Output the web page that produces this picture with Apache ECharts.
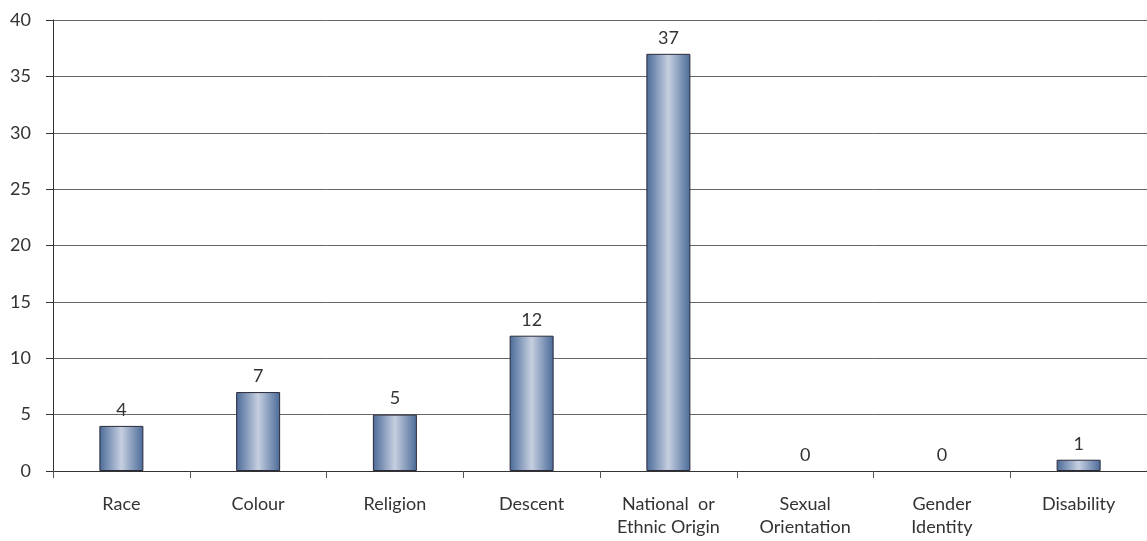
<!DOCTYPE html>
<html><head><meta charset="utf-8">
<script src="https://cdn.jsdelivr.net/npm/echarts@6/dist/echarts.min.js"></script>
<style>html,body{margin:0;padding:0;background:#fff}#c{width:1147px;height:541px}</style>
</head><body><div id="c"></div>
<script>
var categories = ['Race', 'Colour', 'Religion', 'Descent', 'National  or\nEthnic Origin', 'Sexual\nOrientation', 'Gender\nIdentity', 'Disability'];
var values = [4, 7, 5, 12, 37, 0, 0, 1];
var yTicks = { min: 0, max: 40, interval: 5 };

var chart = echarts.init(document.getElementById('c'));
var grad = new echarts.graphic.LinearGradient(0, 0, 1, 0, [
  { offset: 0, color: '#4a6a98' },
  { offset: 0.5, color: '#c6cfe0' },
  { offset: 1, color: '#4a6a98' }
]);
var barData = values.map(function (v) {
  return v === 0 ? { value: v, itemStyle: { borderWidth: 0, opacity: 0 } } : v;
});
chart.setOption({
  animation: false,
  textStyle: { fontFamily: 'Lato', color: '#333' },
  grid: { left: 53, right: -4, top: 20, bottom: 70, containLabel: false },
  xAxis: {
    type: 'category', data: categories,
    axisLine: { lineStyle: { color: '#333', width: 1 } },
    axisTick: { show: true, length: 7, lineStyle: { color: '#555' } },
    axisLabel: { fontSize: 18, fontFamily: 'Lato', color: '#333', margin: 22, lineHeight: 23, interval: 0 }
  },
  yAxis: {
    type: 'value', min: yTicks.min, max: yTicks.max, interval: yTicks.interval,
    axisLine: { show: true, lineStyle: { color: '#333' } },
    axisTick: { show: true, inside: false, length: 7, lineStyle: { color: '#333' } },
    axisLabel: { fontSize: 18, fontFamily: 'Lato', color: '#333', margin: 22 },
    splitLine: { lineStyle: { color: '#666', width: 1 } }
  },
  series: [{
    type: 'bar', data: barData, barWidth: 44,
    itemStyle: { color: grad, borderColor: '#2a2a3a', borderWidth: 1 },
    label: { show: true, position: 'top', fontSize: 18, fontFamily: 'Lato', color: '#333', distance: 7, opacity: 1 }
  }]
});
</script></body></html>
